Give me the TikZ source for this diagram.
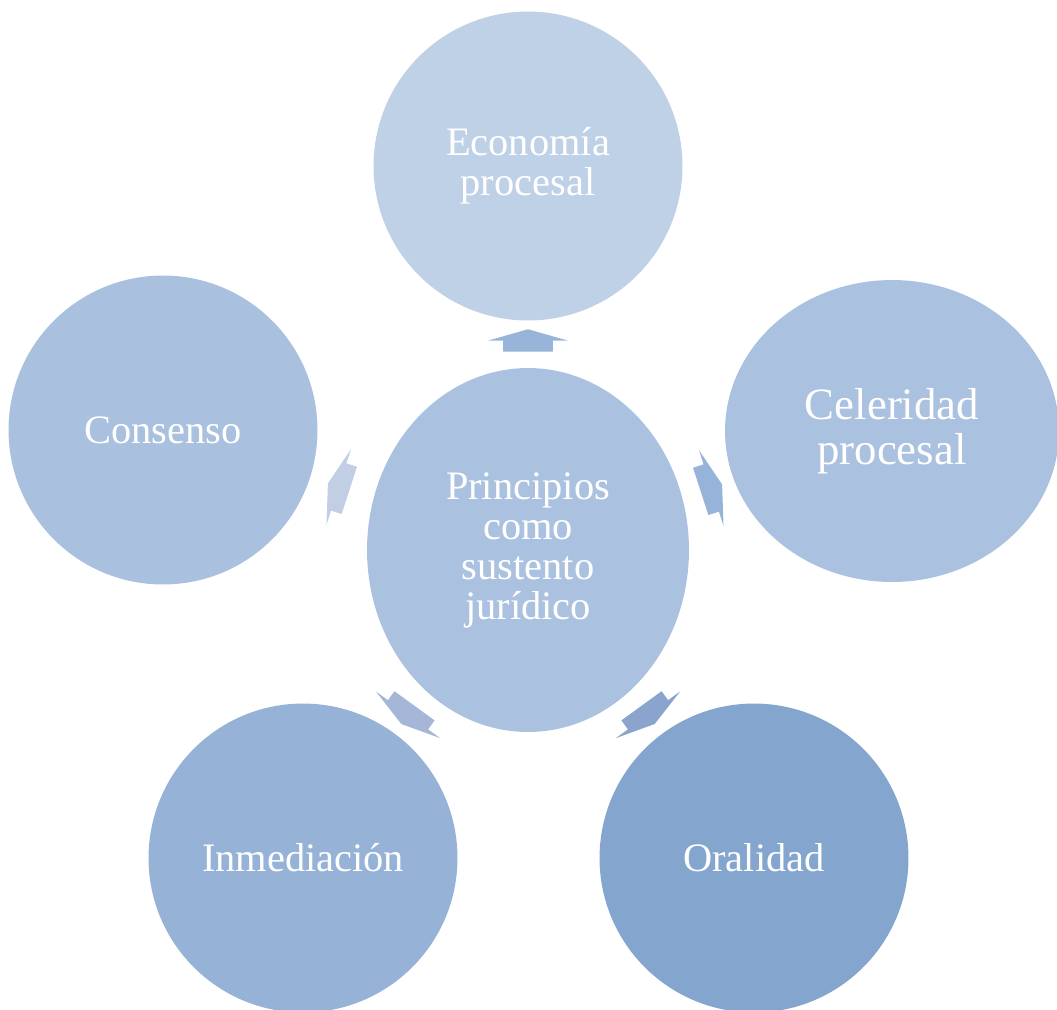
\documentclass[tikz,border=0pt]{standalone}
\usepackage{fontspec}
\setmainfont{Liberation Serif}
\usepackage{tikz}
\usetikzlibrary{shapes.geometric, shapes.arrows}

\definecolor{topblue}{HTML}{BFD1E7}
\definecolor{midblue}{HTML}{ABC1E0}
\definecolor{leftblue}{HTML}{A9C0DF}
\definecolor{lowblue}{HTML}{96B2D7}
\definecolor{deepblue}{HTML}{84A6CE}

\begin{document}
\begin{tikzpicture}[
    x=0.02cm,
    y=-0.02cm,
    every node/.style={text=white, align=center, inner sep=0pt,
        font=\fontsize{23}{22.8}\selectfont},
    principle/.style={circle, minimum size=6.18cm},
    hub/.style={ellipse, minimum width=6.44cm, minimum height=7.28cm},
    flow/.style={single arrow, minimum height=0.45cm, inner xsep=0pt,
        inner ysep=0.49cm, single arrow head extend=0.3cm,
        single arrow tip angle=148}]
]
    \path[use as bounding box] (0,0) rectangle (1057,1009);

    \node[hub, fill=midblue]                    (Hub)       at (528,550)    {Principios\\como\\sustento\\jurídico};
    \node[principle, fill=topblue]              (Economia)  at (528,166)    {Economía\\procesal};
    \node[principle, fill=leftblue]             (Consenso)  at (163,430)    {Consenso};
    \node[ellipse, minimum width=6.68cm, minimum height=6.04cm, fill=midblue,
        font=\fontsize{25.5}{25.6}\selectfont] (Celeridad) at (892,431)    {Celeridad\\procesal};
    \node[principle, fill=lowblue]              (Inmed)     at (303,858)    {Inmediación};
    \node[principle, fill=deepblue]             (Oralidad)  at (754,858)    {Oralidad};

    % arrows from the hub
    \node[flow, rotate=90,  fill={rgb,255:red,151;green,180;blue,217}] (toEconomia)  at (528,344) {};
    \node[flow, rotate=162, fill={rgb,255:red,194;green,206;blue,228}] (toConsenso)  at (342,488) {};
    \node[flow, rotate=18,  fill={rgb,255:red,150;green,179;blue,217}] (toCeleridad) at (708,489) {};
    \node[flow, rotate=234, fill={rgb,255:red,166;green,182;blue,217}] (toInmed)     at (410,712) {};
    \node[flow, rotate=306, fill={rgb,255:red,138;green,164;blue,205}] (toOralidad)  at (646,712) {};
\end{tikzpicture}
\end{document}
